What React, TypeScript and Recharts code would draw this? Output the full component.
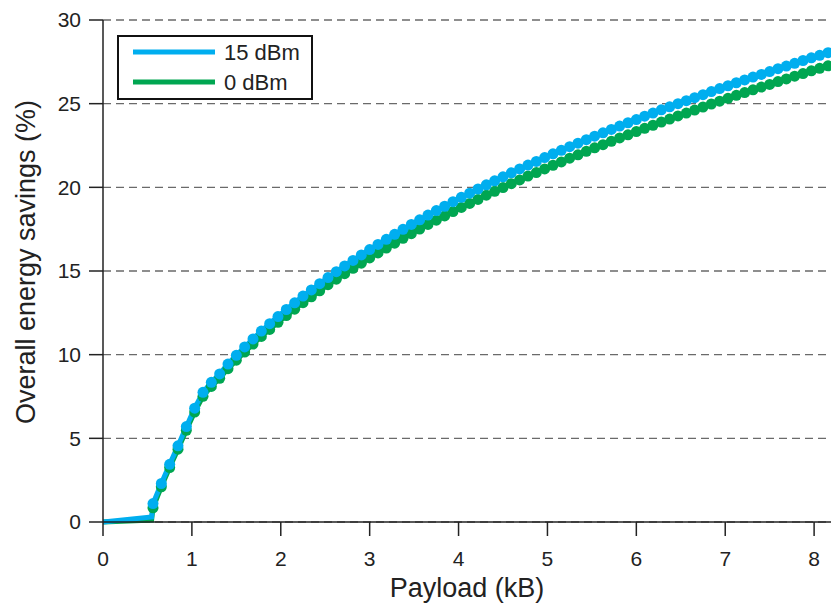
import { LineChart, Line, XAxis, YAxis, CartesianGrid, Legend } from "recharts";

// payload in bytes (x), savings in % for each tx power
const payloadBytes = [
  0, 560, 576, 672, 768, 864, 960, 1056, 1152, 1248, 1344, 1440, 1536, 1632, 1728, 1824, 1920,
  2016, 2112, 2208, 2304, 2400, 2496, 2592, 2688, 2784, 2880, 2976, 3072, 3168, 3264, 3360, 3456,
  3552, 3648, 3744, 3840, 3936, 4032, 4128, 4224, 4320, 4416, 4512, 4608, 4704, 4800, 4896, 4992,
  5088, 5184, 5280, 5376, 5472, 5568, 5664, 5760, 5856, 5952, 6048, 6144, 6240, 6336, 6432, 6528,
  6624, 6720, 6816, 6912, 7008, 7104, 7200, 7296, 7392, 7488, 7584, 7680, 7776, 7872, 7968, 8064,
  8160, 8256, 8352, 8448,
];

const savings15dBm = [
  0, 0.3, 1.1, 2.3, 3.45, 4.55, 5.7, 6.8, 7.75, 8.35, 8.85, 9.44, 9.96, 10.46, 10.94, 11.41, 11.85,
  12.28, 12.7, 13.1, 13.5, 13.87, 14.24, 14.61, 14.96, 15.3, 15.63, 15.96, 16.28, 16.59, 16.89,
  17.19, 17.49, 17.78, 18.06, 18.34, 18.61, 18.87, 19.14, 19.4, 19.65, 19.9, 20.15, 20.39, 20.63,
  20.87, 21.1, 21.33, 21.55, 21.78, 22.0, 22.21, 22.43, 22.64, 22.85, 23.06, 23.26, 23.46, 23.66,
  23.86, 24.05, 24.25, 24.44, 24.63, 24.81, 25.0, 25.18, 25.36, 25.54, 25.72, 25.9, 26.07, 26.25,
  26.42, 26.59, 26.75, 26.92, 27.09, 27.25, 27.41, 27.58, 27.74, 27.89, 28.05, 28.21,
];

const savings0dBm = [
  0, 0.12, 0.85, 2.1, 3.25, 4.35, 5.48, 6.57, 7.51, 8.1, 8.59, 9.16, 9.67, 10.16, 10.63, 11.09,
  11.51, 11.93, 12.34, 12.72, 13.11, 13.46, 13.82, 14.18, 14.51, 14.84, 15.16, 15.47, 15.78, 16.08,
  16.37, 16.66, 16.95, 17.23, 17.51, 17.78, 18.04, 18.29, 18.55, 18.8, 19.04, 19.28, 19.53, 19.76,
  19.99, 20.22, 20.44, 20.67, 20.88, 21.1, 21.32, 21.52, 21.74, 21.94, 22.15, 22.36, 22.55, 22.75,
  22.95, 23.14, 23.33, 23.53, 23.71, 23.9, 24.08, 24.27, 24.44, 24.62, 24.8, 24.98, 25.15, 25.32,
  25.5, 25.66, 25.83, 25.99, 26.15, 26.32, 26.48, 26.64, 26.8, 26.96, 27.11, 27.26, 27.42,
];

const xTicks = [0, 1, 2, 3, 4, 5, 6, 7, 8];
const yTicks = [0, 5, 10, 15, 20, 25, 30];

const BLUE = "#00aeef";
const GREEN = "#00a651";
const FONT = "'Liberation Sans', Arial, Helvetica, sans-serif";

const data = payloadBytes.map((b, i) => ({
  kb: b / 1024,
  p15: savings15dBm[i],
  p0: savings0dBm[i],
}));

const makeDot = (color: string) => (props: any) => {
  const { cx, cy, index } = props;
  if (index < 2 || cx == null || cy == null) return <g key={`d-${index}`} />;
  return <circle key={`d-${index}`} cx={cx} cy={cy} r={5.5} fill={color} stroke="none" />;
};

const YTitle = () => (
  <text
    x={35}
    y={262}
    transform="rotate(-90, 35, 262)"
    textAnchor="middle"
    fontSize={27}
    fontFamily={FONT}
    fill="#222"
  >
    Overall energy savings (%)
  </text>
);

const XTitle = () => (
  <text x={467} y={597} textAnchor="middle" fontSize={27} fontFamily={FONT} fill="#222">
    Payload (kB)
  </text>
);

const LegendBox = () => {
  const items = [
    { name: "15 dBm", color: BLUE },
    { name: "0 dBm", color: GREEN },
  ];
  return (
    <svg width={196} height={65} style={{ display: "block" }}>
      <rect x={1} y={1} width={194} height={63} fill="#fff" stroke="#111" strokeWidth={2} />
      {items.map((it, i) => (
        <g key={it.name}>
          <line x1={16} x2={98} y1={17 + i * 30} y2={17 + i * 30} stroke={it.color} strokeWidth={5} />
          <text x={107} y={17 + i * 30} dy="0.36em" fontSize={22} fontFamily={FONT} fill="#222">
            {it.name}
          </text>
        </g>
      ))}
    </svg>
  );
};

export default function App() {
  const tickStyle = { fontSize: 21, fill: "#222", fontFamily: FONT };
  return (
    <div style={{ position: "absolute", left: 0, top: 0, width: 831, height: 606, background: "#fff" }}>
      <LineChart width={831} height={606} data={data} margin={{ top: 20, right: 0, bottom: 24, left: 8 }}>
        <CartesianGrid vertical={false} stroke="#6a6a6a" strokeWidth={1.3} strokeDasharray="8 5" />
        <XAxis
          type="number"
          dataKey="kb"
          domain={[0, 8.19]}
          allowDataOverflow
          ticks={xTicks}
          height={60}
          tickSize={14}
          tickMargin={15}
          tick={tickStyle}
          axisLine={{ stroke: "#222", strokeWidth: 1.5 }}
          tickLine={{ stroke: "#222", strokeWidth: 1.5 }}
          label={<XTitle />}
        />
        <YAxis
          type="number"
          domain={[0, 30]}
          ticks={yTicks}
          width={95}
          tickSize={14}
          tickMargin={8}
          tick={tickStyle}
          axisLine={{ stroke: "#222", strokeWidth: 1.5 }}
          tickLine={{ stroke: "#222", strokeWidth: 1.5 }}
          label={<YTitle />}
        />
        <Legend
          layout="horizontal"
          align="center"
          verticalAlign="middle"
          wrapperStyle={{ left: 117, top: 35, width: 196, height: 65 }}
          content={() => <LegendBox />}
        />
        <Line
          type="linear"
          dataKey="p0"
          name="0 dBm"
          stroke={GREEN}
          strokeWidth={5}
          dot={makeDot(GREEN)}
          activeDot={false}
          isAnimationActive={false}
        />
        <Line
          type="linear"
          dataKey="p15"
          name="15 dBm"
          stroke={BLUE}
          strokeWidth={5}
          dot={makeDot(BLUE)}
          activeDot={false}
          isAnimationActive={false}
        />
      </LineChart>
    </div>
  );
}
